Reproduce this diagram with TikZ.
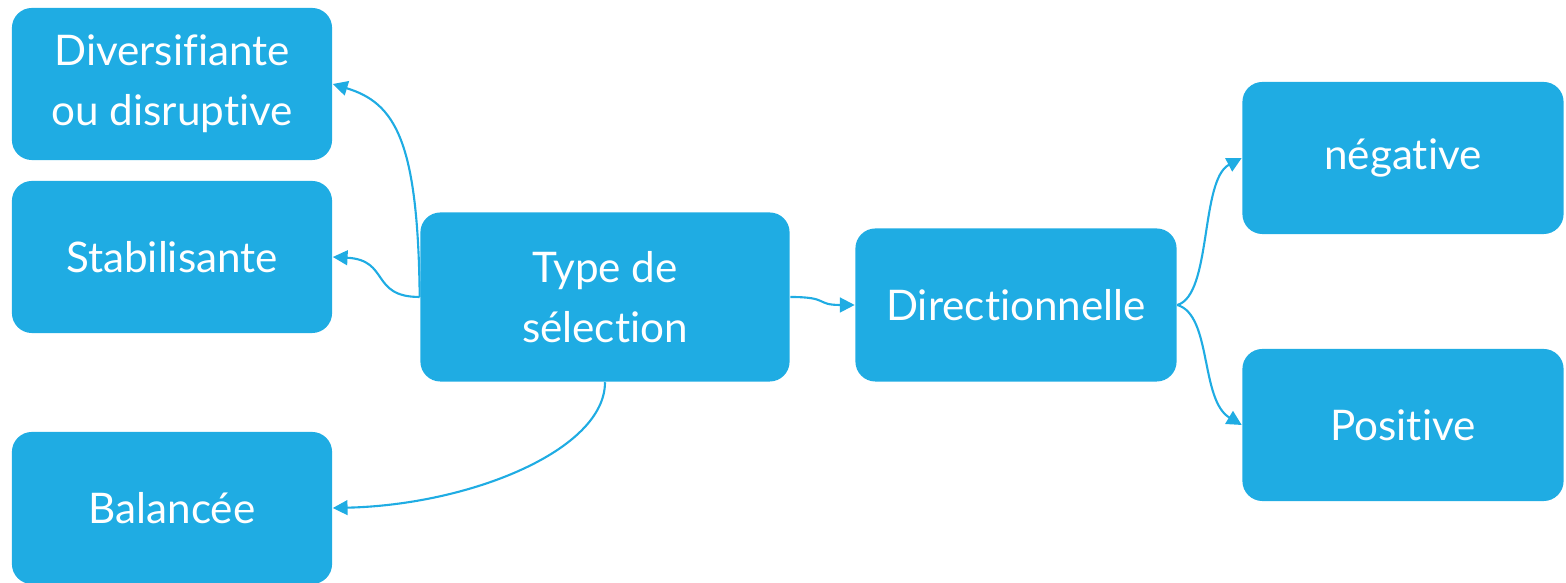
\documentclass[tikz,border=0pt]{standalone}
\usepackage{fontspec}
\setmainfont{Lato}[Ligatures={NoCommon}]
\usepackage{tikz}
\usetikzlibrary{arrows.meta,positioning,calc}
\definecolor{bleu}{RGB}{31,172,227}

\tikzset{
  boite/.style={fill=bleu,rounded corners=0.2cm,text=white,align=center,
    minimum width=3.2cm,minimum height=1.52cm,font=\fontsize{12}{17}\selectfont},
  lien/.style={draw=bleu,line width=0.6pt,-{Triangle[length=4.2pt,width=4.2pt]}}
}

\begin{document}
\begin{tikzpicture}[x=0.01cm,y=-0.01cm]
    \useasboundingbox (0,0) rectangle (1566,583);

    % Boîtes de gauche
    \node[boite] (div) at (172,84) {Diversifiante\\ou disruptive};
    \node[boite] (stab) at (172,257) {Stabilisante};
    \node[boite] (bal) at (172,508) {Balancée};

    % Boîte centrale
    \node[boite,minimum width=3.69cm,minimum height=1.69cm] (type) at (605,297) {Type de\\sélection};
    \node[boite,minimum width=3.21cm,minimum height=1.53cm] (dir) at (1016,305) {Directionnelle};

    % Boîtes de droite
    \node[boite,minimum width=3.21cm] (neg) at (1403,158) {négative};
    \node[boite,minimum width=3.21cm] (pos) at (1403,425) {Positive};

    % Flèches
    \draw[lien] (type.west) .. controls (418,140) and (395,103) .. (div.east);
    \draw[lien] (type.west) .. controls (370,297) and (390,260) .. (stab.east);
    \draw[lien] (type.south) .. controls (605,450) and (470,505) .. (bal.east);
    \draw[lien] (type.east) .. controls (830,297) and (815,305) .. (dir.west);
    \draw[lien] (dir.east) .. controls (1212,295) and (1200,180) .. (neg.west);
    \draw[lien] (dir.east) .. controls (1212,315) and (1200,400) .. (pos.west);

\end{tikzpicture}
\end{document}
